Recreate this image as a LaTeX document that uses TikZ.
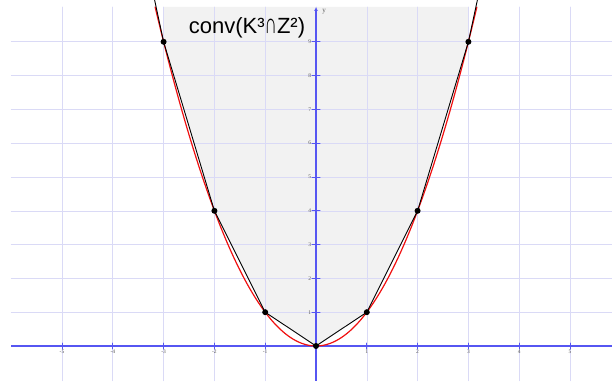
\documentclass[tikz,border=0pt]{standalone}
\usepackage{fontspec}
\setmainfont{Liberation Sans}
\newfontfamily\axisfont{Liberation Serif}
\usepackage{tikz}
\usetikzlibrary{arrows.meta}
\definecolor{plotgrid}{HTML}{DADAF6}
\definecolor{plotaxis}{HTML}{5656F2}
\definecolor{plotred}{HTML}{F01010}
\definecolor{plotfill}{HTML}{F2F2F2}
\definecolor{plotlabel}{HTML}{5A5A5A}
\newcommand{\tallcap}{\scalebox{0.78}[1.3]{∩}}
\tikzset{
every picture/.style={line cap=round,line join=round},
grid line/.style={draw=plotgrid, line width=0.6pt},
axis line/.style={draw=plotaxis, line width=1.6pt, line cap=butt},
tick mark/.style={draw=plotaxis, line width=0.8pt},
tick label/.style={font=\axisfont\fontsize{5.5}{6}\selectfont, text=plotlabel, inner sep=0.5pt},
hull line/.style={draw=black, line width=0.9pt},
parab line/.style={draw=plotred, line width=1.2pt},
lattice dot/.style={circle, fill=black, inner sep=0pt, minimum size=6pt},
hull label/.style={font=\fontsize{22}{24}\selectfont, text=black}
}
\begin{document}
\begin{tikzpicture}[x=50.8pt,y=33.8pt]
\useasboundingbox (-316pt,-37pt) rectangle (296pt,346pt);
% shaded hull
\fill[plotfill] (-3,10.03) -- (-3,9) -- (-2,4) -- (-1,1) -- (0,0) -- (1,1) -- (2,4) -- (3,9) -- (3,10.03) -- cycle;
% grid
\foreach \i in {-5,...,5}
  \draw[grid line] (\i,-1.03) -- (\i,10.03);
\foreach \j in {1,...,9}
  \draw[grid line] (-6,\j) -- (296pt,\j);
% axes
\draw[axis line] (-6,0) -- (296pt,0);
\draw[axis line,-{Latex[length=4pt,width=4pt]}] (0,-1.03) -- (0,10.03);
\node[font=\axisfont\fontsize{7}{8}\selectfont, text=plotlabel] (ylabel) at (0.16,9.9) {y};
\foreach \i in {-5,...,-1,1,2,...,5} {
  \draw[tick mark] (\i,-0.09) -- (\i,0.09);
  \node[tick label,below] (xt\i) at (\i,-0.1) {\i};
}
\foreach \j in {1,...,9} {
  \draw[tick mark] (-0.08,\j) -- (0.08,\j);
  \node[tick label,left] (yt\j) at (-0.08,\j) {\j};
}
% parabola and hull boundary
\draw[parab line] plot[domain=-3.167:3.167,samples=120] (\x,{\x*\x});
\draw[hull line] (-3.177,10.237) -- (-3,9) -- (-2,4) -- (-1,1) -- (0,0) -- (1,1) -- (2,4) -- (3,9) -- (3.177,10.237);
\foreach \k in {-3,...,3}
  \node[lattice dot] (p\k) at (\k,{\k*\k}) {};
\node[hull label] (title) at (-69pt,318pt) {conv(K³\tallcap Z²)};
\end{tikzpicture}
\end{document}
